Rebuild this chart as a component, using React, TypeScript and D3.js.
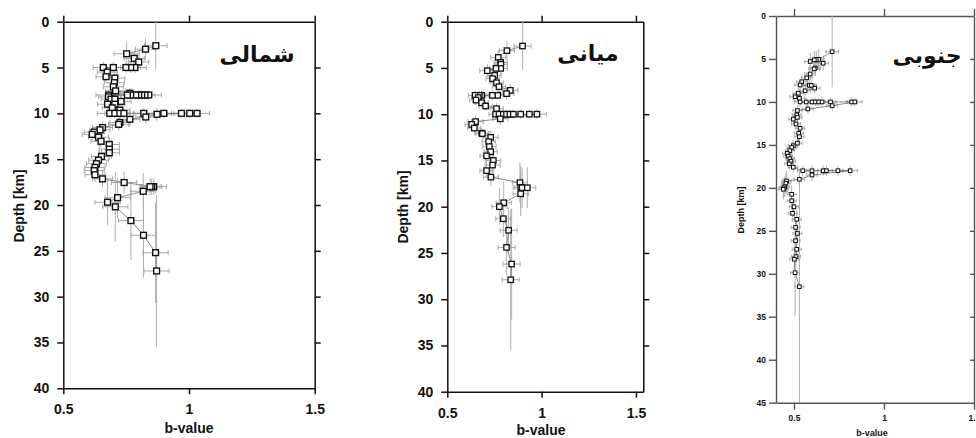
import React, { useEffect, useRef } from "react";
import * as d3 from "d3";

// ---------- Data: شمالی (north) ----------
const northB = [0.868,0.827,0.752,0.782,0.800,0.785,0.768,0.749,0.699,0.659,0.675,0.670,0.705,0.703,0.699,0.708,0.765,0.840,0.825,0.812,0.800,0.788,0.768,0.755,0.680,0.680,0.690,0.705,0.730,0.705,0.676,0.695,0.725,0.685,0.705,0.725,0.741,0.820,0.900,0.970,1.003,1.032,0.873,0.828,0.765,0.725,0.720,0.656,0.646,0.623,0.615,0.640,0.650,0.683,0.683,0.683,0.652,0.640,0.632,0.626,0.623,0.626,0.656,0.742,0.860,0.852,0.845,0.818,0.716,0.676,0.707,0.769,0.819,0.867,0.871];
const northDepth = [2.62,3.0,3.5,4.0,4.4,5.0,5.0,5.0,5.0,5.0,5.5,6.0,6.15,6.65,7.1,7.55,7.8,8.0,8.0,8.0,8.0,8.0,8.0,8.0,8.0,8.2,8.45,8.45,8.7,9.0,9.0,9.4,9.65,10.0,10.0,10.0,10.0,10.0,10.0,10.0,10.0,10.0,10.1,10.4,10.65,11.0,11.2,11.55,11.8,12.05,12.3,12.6,13.05,13.4,13.9,14.3,14.7,15.1,15.5,15.9,16.25,16.7,17.15,17.55,18.0,18.0,18.0,18.5,19.2,19.7,20.2,21.7,23.3,25.2,27.2];
const northBErr = [0.045,0.04,0.05,0.04,0.04,0.045,0.04,0.04,0.045,0.04,0.04,0.04,0.04,0.04,0.04,0.04,0.04,0.05,0.04,0.04,0.04,0.04,0.04,0.04,0.05,0.04,0.04,0.04,0.04,0.04,0.04,0.04,0.04,0.05,0.04,0.04,0.04,0.04,0.04,0.04,0.04,0.05,0.04,0.04,0.04,0.04,0.04,0.04,0.04,0.04,0.04,0.04,0.04,0.04,0.04,0.04,0.04,0.04,0.04,0.04,0.04,0.04,0.04,0.05,0.05,0.04,0.04,0.05,0.05,0.05,0.05,0.05,0.05,0.05,0.05];
const northDErr = [2.6,1.2,1.3,0.8,0.7,0.6,0.6,0.6,0.6,0.6,0.6,0.6,0.6,0.7,0.7,0.7,0.6,0.5,0.5,0.5,0.5,0.5,0.5,0.5,0.6,0.6,0.6,0.6,0.6,0.6,0.6,0.6,0.6,0.5,0.5,0.5,0.5,0.6,0.5,0.5,0.5,0.5,0.7,0.7,0.8,0.7,0.7,0.7,0.7,0.7,0.7,0.7,0.7,0.8,0.8,0.8,0.8,0.8,0.8,0.8,0.8,0.8,0.9,1.2,0.9,0.9,0.9,2.0,2.2,2.5,3.8,4.3,4.6,5.5,8.3];

// ---------- Data: میانی (middle) ----------
const midB = [0.899,0.816,0.770,0.783,0.784,0.783,0.758,0.712,0.751,0.740,0.761,0.774,0.834,0.814,0.767,0.739,0.682,0.670,0.647,0.664,0.652,0.682,0.703,0.761,0.756,0.774,0.797,0.814,0.832,0.850,0.889,0.935,0.975,0.781,0.650,0.629,0.643,0.682,0.686,0.730,0.719,0.723,0.730,0.708,0.744,0.740,0.708,0.731,0.885,0.889,0.897,0.924,0.889,0.799,0.776,0.797,0.825,0.814,0.841,0.836];
const midDepth = [2.63,3.13,3.86,4.4,4.6,5.05,5.05,5.3,5.8,6.16,6.6,7.03,7.42,7.78,7.96,7.96,7.96,7.96,7.96,8.2,8.47,8.76,9.12,9.4,10,10,10,10,10,10,10,10,10,10.5,10.8,11.1,11.5,12.05,12.1,12.5,12.97,13.5,14.05,14.5,15.0,15.5,16.1,16.8,17.4,17.9,17.95,17.95,18.6,19.57,20.0,21.3,22.55,24.4,26.2,27.9];
const midBErr = [0.045,0.04,0.04,0.035,0.035,0.035,0.035,0.04,0.035,0.035,0.035,0.035,0.04,0.04,0.035,0.035,0.035,0.035,0.035,0.035,0.035,0.035,0.035,0.035,0.035,0.035,0.035,0.035,0.035,0.035,0.035,0.04,0.05,0.04,0.04,0.035,0.035,0.035,0.035,0.04,0.035,0.035,0.035,0.035,0.04,0.04,0.035,0.04,0.04,0.04,0.04,0.045,0.04,0.04,0.04,0.04,0.045,0.045,0.045,0.045];
const midDErr = [2.6,1.0,0.8,0.7,0.7,0.7,0.7,0.7,0.6,0.6,0.6,0.6,0.7,0.7,0.5,0.5,0.5,0.5,0.5,0.5,0.5,0.5,0.5,0.6,0.5,0.5,0.5,0.5,0.5,0.5,0.5,0.5,0.5,0.7,0.6,0.6,0.6,0.5,0.5,0.7,0.7,0.7,0.7,0.8,0.8,0.8,0.8,1.0,2.2,2.3,2.2,2.2,2.4,2.3,2.0,2.0,2.5,3.0,6.0,7.6];

// ---------- Data: جنوبی (south) ----------
const southB = [0.712,0.637,0.624,0.613,0.590,0.662,0.618,0.612,0.590,0.571,0.543,0.534,0.585,0.596,0.615,0.562,0.524,0.506,0.530,0.534,0.568,0.600,0.618,0.637,0.656,0.703,0.820,0.838,0.712,0.577,0.519,0.515,0.519,0.496,0.511,0.534,0.526,0.530,0.519,0.496,0.487,0.477,0.462,0.468,0.477,0.483,0.474,0.496,0.549,0.600,0.662,0.680,0.744,0.812,0.600,0.530,0.459,0.455,0.449,0.444,0.440,0.487,0.487,0.500,0.492,0.515,0.509,0.519,0.509,0.515,0.511,0.502,0.506,0.530];
const southDepth = [4.15,5.05,5.05,5.1,5.3,5.5,6.05,6.15,6.75,7.2,7.65,8.03,8.07,8.07,8.4,8.7,9.0,9.4,9.58,10,10,10,10,10,10,10,10,10,10.43,10.82,11.0,11.5,11.8,12.0,12.57,13.07,13.65,14.04,14.8,15.1,15.3,15.67,15.98,16.3,16.6,16.9,17.2,17.6,18,18,18,18,18,18,18.5,19.0,19.2,19.47,19.86,20.0,20.17,20.75,21.5,22.2,22.96,23.66,24.6,25.3,26.15,27.15,28.0,28.3,29.87,31.5];
const southBErr = [0.035,0.03,0.03,0.03,0.03,0.03,0.03,0.03,0.03,0.03,0.03,0.03,0.03,0.03,0.03,0.03,0.03,0.03,0.03,0.03,0.03,0.03,0.03,0.03,0.03,0.03,0.03,0.04,0.03,0.03,0.025,0.025,0.025,0.025,0.025,0.025,0.025,0.025,0.025,0.025,0.025,0.025,0.025,0.025,0.025,0.025,0.025,0.025,0.03,0.03,0.03,0.03,0.03,0.04,0.03,0.03,0.025,0.025,0.025,0.025,0.025,0.025,0.025,0.025,0.025,0.025,0.025,0.025,0.025,0.025,0.025,0.025,0.025,0.025];
const southDErr = [4.15,1.2,1.0,1.0,1.0,0.8,0.7,0.7,0.7,0.7,0.7,0.6,0.6,0.6,0.6,0.6,0.6,0.6,0.6,0.6,0.5,0.5,0.5,0.5,0.5,0.5,0.5,0.5,0.6,0.6,0.6,0.6,0.6,0.6,0.6,0.6,0.6,0.6,0.6,0.6,0.6,0.6,0.6,0.6,0.6,0.6,0.6,0.6,0.6,0.6,0.6,0.6,0.6,0.6,0.7,0.9,1.2,1.2,1.2,1.2,1.2,1.0,1.0,1.0,1.0,1.0,1.0,1.0,1.0,1.0,1.0,1.2,5.0,13.5];

// ---------- Axis ticks & labels ----------
const depthTicks1 = [0, 5, 10, 15, 20, 25, 30, 35, 40];
const depthTicks3 = [0, 5, 10, 15, 20, 25, 30, 35, 40, 45];
const bTicks = [0.5, 1, 1.5];
const titles = ["شمالی", "میانی", "جنوبی"];
const xLabel = "b-value";
const yLabel = "Depth [km]";

type Panel = {
  b: number[]; d: number[]; bErr: number[]; dErr: number[];
  xDomain: [number, number]; yMax: number; depthTicks: number[];
  L: number; R: number; T: number; B: number;
  font: number; labelFont: number; axisColor: string; axisW: number;
  tickIn: number; rightTick: number; marker: number; markerW: number; cap: number;
  title: string; titleX: number; titleY: number; titleSize: number;
  yLabelX: number; yLabelY: number; xLabelX: number; xLabelY: number; xTickPad: number; yTickPad: number;
};

const panels: Panel[] = [
  {
    b: northB, d: northDepth, bErr: northBErr, dErr: northDErr,
    xDomain: [0.5, 1.5], yMax: 40, depthTicks: depthTicks1,
    L: 63.3, R: 314.7, T: 21.7, B: 388.3,
    font: 14, labelFont: 14, axisColor: "#111", axisW: 1.5,
    tickIn: 6, rightTick: 6, marker: 5.8, markerW: 1.4, cap: 2.5,
    title: titles[0], titleX: 257, titleY: 62, titleSize: 22,
    yLabelX: 19, yLabelY: 206, xLabelX: 189, xLabelY: 433, xTickPad: 10, yTickPad: 8,
  },
  {
    b: midB, d: midDepth, bErr: midBErr, dErr: midDErr,
    xDomain: [0.5, 1.539], yMax: 40, depthTicks: depthTicks1,
    L: 447.3, R: 643.3, T: 21.7, B: 391.7,
    font: 14, labelFont: 14, axisColor: "#111", axisW: 1.5,
    tickIn: 6, rightTick: 6, marker: 5.4, markerW: 1.3, cap: 2.5,
    title: titles[1], titleX: 588, titleY: 61, titleSize: 22,
    yLabelX: 403, yLabelY: 207, xLabelX: 541, xLabelY: 434.5, xTickPad: 10, yTickPad: 8,
  },
  {
    b: southB, d: southDepth, bErr: southBErr, dErr: southDErr,
    xDomain: [0.4, 1.5], yMax: 45, depthTicks: depthTicks3,
    L: 776, R: 974, T: 16, B: 402.7,
    font: 8.5, labelFont: 9, axisColor: "#555", axisW: 1.4,
    tickIn: 7, rightTick: -4, marker: 3.6, markerW: 1, cap: 1.8,
    title: titles[2], titleX: 927, titleY: 63, titleSize: 22,
    yLabelX: 741, yLabelY: 210, xLabelX: 872, xLabelY: 435.5, xTickPad: 5, yTickPad: 3,
  },
];

export default function App() {
  const ref = useRef<SVGSVGElement | null>(null);

  useEffect(() => {
    const svg = d3.select(ref.current);
    svg.selectAll("*").remove();
    const ff = "'Liberation Sans', Arial, Helvetica, sans-serif";

    panels.forEach((p) => {
      const x = d3.scaleLinear().domain(p.xDomain).range([p.L, p.R]);
      const y = d3.scaleLinear().domain([0, p.yMax]).range([p.T, p.B]);
      const g = svg.append("g");

      const styleAxis = (sel: any) => {
        sel.select(".domain").attr("stroke", p.axisColor).attr("stroke-width", p.axisW);
        sel.selectAll(".tick line").attr("stroke", p.axisColor).attr("stroke-width", p.axisW);
        sel.selectAll(".tick text")
          .attr("fill", "#111")
          .attr("font-family", ff)
          .attr("font-weight", "bold")
          .attr("font-size", p.font);
      };
      const xt = bTicks.filter((t) => t >= p.xDomain[0] && t <= p.xDomain[1]);

      g.append("g")
        .attr("transform", `translate(${p.L},0)`)
        .call(d3.axisLeft(y).tickValues(p.depthTicks).tickSize(p.tickIn).tickSizeOuter(0).tickPadding(p.yTickPad).tickFormat(d3.format("d")) as any)
        .call(styleAxis);
      g.append("g")
        .attr("transform", `translate(${p.R},0)`)
        .call(d3.axisRight(y).tickValues(p.depthTicks.filter((t) => t > 0 && t < p.yMax)).tickSize(p.rightTick).tickSizeOuter(0).tickFormat(() => "") as any)
        .call(styleAxis);
      g.append("g")
        .attr("transform", `translate(0,${p.T})`)
        .call(d3.axisTop(x).tickValues(xt).tickSize(p.tickIn).tickSizeOuter(0).tickFormat(() => "") as any)
        .call(styleAxis);
      g.append("g")
        .attr("transform", `translate(0,${p.B})`)
        .call(d3.axisBottom(x).tickValues(xt).tickSize(p.tickIn).tickSizeOuter(0).tickPadding(p.xTickPad).tickFormat((v: any) => String(v)) as any)
        .call(styleAxis);

      g.append("text")
        .attr("x", p.xLabelX)
        .attr("y", p.xLabelY)
        .attr("text-anchor", "middle")
        .attr("font-family", ff).attr("font-weight", "bold").attr("font-size", p.labelFont)
        .attr("fill", "#111")
        .text(xLabel);
      g.append("text")
        .attr("transform", `translate(${p.yLabelX},${p.yLabelY}) rotate(-90)`)
        .attr("text-anchor", "middle")
        .attr("dominant-baseline", "central")
        .attr("font-family", ff).attr("font-weight", "bold").attr("font-size", p.labelFont)
        .attr("fill", "#111")
        .text(yLabel);

      const idx = d3.range(p.b.length);
      const clampD = (v: number) => Math.max(0, Math.min(p.yMax, v));

      g.append("g").selectAll("line").data(idx).join("line")
        .attr("x1", (i) => x(p.b[i])).attr("x2", (i) => x(p.b[i]))
        .attr("y1", (i) => y(clampD(p.d[i] - p.dErr[i])))
        .attr("y2", (i) => y(clampD(p.d[i] + p.dErr[i])))
        .attr("stroke", "#b0b0b0").attr("stroke-width", 1);
      const hb = g.append("g");
      hb.selectAll("line.h").data(idx).join("line").attr("class", "h")
        .attr("x1", (i) => x(p.b[i] - p.bErr[i])).attr("x2", (i) => x(p.b[i] + p.bErr[i]))
        .attr("y1", (i) => y(p.d[i])).attr("y2", (i) => y(p.d[i]))
        .attr("stroke", "#a8a8a8").attr("stroke-width", 1);
      hb.selectAll("line.cl").data(idx).join("line").attr("class", "cl")
        .attr("x1", (i) => x(p.b[i] - p.bErr[i])).attr("x2", (i) => x(p.b[i] - p.bErr[i]))
        .attr("y1", (i) => y(p.d[i]) - p.cap).attr("y2", (i) => y(p.d[i]) + p.cap)
        .attr("stroke", "#a8a8a8").attr("stroke-width", 1);
      hb.selectAll("line.cr").data(idx).join("line").attr("class", "cr")
        .attr("x1", (i) => x(p.b[i] + p.bErr[i])).attr("x2", (i) => x(p.b[i] + p.bErr[i]))
        .attr("y1", (i) => y(p.d[i]) - p.cap).attr("y2", (i) => y(p.d[i]) + p.cap)
        .attr("stroke", "#a8a8a8").attr("stroke-width", 1);

      const line = d3.line<number>().x((i) => x(p.b[i])).y((i) => y(p.d[i]));
      g.append("path").attr("d", line(idx) as string)
        .attr("fill", "none").attr("stroke", "#707070").attr("stroke-width", 0.8);

      g.append("g").selectAll("rect").data(idx).join("rect")
        .attr("x", (i) => x(p.b[i]) - p.marker / 2)
        .attr("y", (i) => y(p.d[i]) - p.marker / 2)
        .attr("width", p.marker).attr("height", p.marker)
        .attr("fill", "white").attr("stroke", "#111").attr("stroke-width", p.markerW);

      g.append("text")
        .attr("x", p.titleX).attr("y", p.titleY)
        .attr("text-anchor", "middle")
        .attr("font-family", "'DejaVu Sans', 'Noto Sans', sans-serif")
        .attr("font-weight", "bold").attr("font-size", p.titleSize)
        .attr("fill", "#111")
        .text(p.title);
    });
  }, []);

  return (
    <svg
      ref={ref}
      width={976}
      height={438}
      style={{ position: "absolute", left: 0, top: 0, background: "white" }}
    />
  );
}
